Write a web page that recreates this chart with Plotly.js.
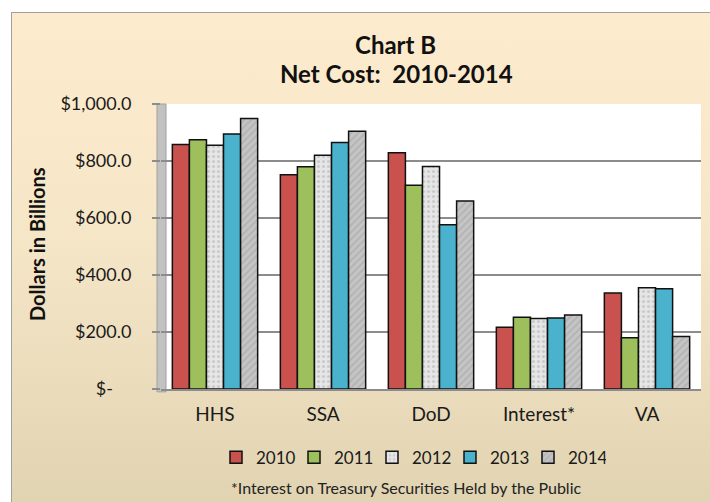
<!DOCTYPE html>
<html><head><meta charset="utf-8">
<script src="https://cdn.plot.ly/plotly-3.0.1.min.js"></script>
<style>
html,body{margin:0;padding:0;background:#fff;}
#wrap{position:relative;width:710px;height:502px;overflow:hidden;}
#bg{position:absolute;left:11px;top:12px;width:720px;height:500px;border:1px solid #a0a0a0;
 background:linear-gradient(to bottom,#fdebcd 0%,#f6e6c8 45%,#e0d3b1 100%);}
#chart{position:absolute;left:0;top:0;width:710px;height:502px;}
</style></head>
<body><div id="wrap"><div id="bg"></div><div id="chart"></div></div>
<script>
const categories = ["HHS", "SSA", "DoD", "Interest*", "VA"];
const years = ["2010", "2011", "2012", "2013", "2014"];
const v2010 = [858, 752, 829, 217, 337];
const v2011 = [875, 780, 715, 252, 180];
const v2012 = [855, 820, 781, 247, 355];
const v2013 = [895, 865, 576, 249, 352];
const v2014 = [949, 904, 660, 260, 184];
const yTickVals = [0, 200, 400, 600, 800, 1000];
const yTickText = ["$-\u00a0\u00a0\u00a0\u00a0", "$200.0", "$400.0", "$600.0", "$800.0", "$1,000.0"];

const series = [v2010, v2011, v2012, v2013, v2014];
const colors = ["#c9524f", "#9dbf5c", "#e6e6e6", "#4bb2cd", "#c4c4c4"];
const patterns = ["", "", ".", "", "/"];
const data = series.map((vals, i) => ({
  type: "bar", x: categories, y: vals, name: years[i],
  marker: {color: colors[i], line: {color: "#111", width: 1.5},
    pattern: patterns[i] ? {shape: patterns[i], bgcolor: colors[i], fgcolor: "#6a6a6a", fgopacity: 0.22, size: 5, solidity: 0.3} : undefined},
  hoverinfo: "skip"
}));

const FONT = "Lato, 'Open Sans', sans-serif";
const layout = {
  width: 710, height: 502,
  paper_bgcolor: "rgba(0,0,0,0)", plot_bgcolor: "#ffffff",
  margin: {l: 161, r: 9, t: 104, b: 113},
  barmode: "group", bargap: 0.21, bargroupgap: 0,
  font: {family: FONT, size: 15, color: "#1a1a1a"},
  showlegend: true,
  legend: {orientation: "h", xref: "container", yref: "container", x: 216/710, xanchor: "left", y: 0.088, yanchor: "middle",
    entrywidth: 33, entrywidthmode: "pixels",
    font: {family: FONT, size: 17, color: "#1a1a1a"}, bgcolor: "rgba(0,0,0,0)", traceorder: "normal"},
  xaxis: {type: "category", showgrid: false, showline: true, linecolor: "#8c8c8c", linewidth: 1.5,
    ticks: "", tickfont: {family: FONT, size: 19, color: "#1a1a1a"}, ticklabelstandoff: 8},
  yaxis: {range: [0, 1000], tickvals: yTickVals, ticktext: yTickText, showgrid: true,
    gridcolor: "#8c8c8c", gridwidth: 1.5, zeroline: false, showline: false,
    ticks: "outside", ticklen: 8, tickcolor: "#8c8c8c", tickwidth: 1.5, ticklabelstandoff: 17,
    tickfont: {family: FONT, size: 18, color: "#1a1a1a"}},
  shapes: [
    {type: "rect", xref: "x domain", yref: "y domain", x0: -0.0074, x1: 0.0093, y0: -0.01, y1: 1.0,
     fillcolor: "#c2c2c2", line: {color: "#a0a0a0", width: 1}, layer: "below"}
  ],
  annotations: [
    {text: "<b>Chart B</b>", xref: "paper", yref: "paper", x: (395-161)/540, y: (389-44)/285,
     showarrow: false, font: {family: FONT, size: 24, color: "#111"}, xanchor: "center", yanchor: "middle"},
    {text: "<b>Net Cost:  2010-2014</b>", xref: "paper", yref: "paper", x: (396-161)/540, y: (389-74)/285,
     showarrow: false, font: {family: FONT, size: 24, color: "#111"}, xanchor: "center", yanchor: "middle"},
    {text: "<b>Dollars in Billions</b>", xref: "paper", yref: "paper", x: (37-161)/540, y: (389-244)/285,
     textangle: -90, showarrow: false, font: {family: FONT, size: 20, color: "#111"}, xanchor: "center", yanchor: "middle"},
    {text: "*Interest on Treasury Securities Held by the Public", xref: "paper", yref: "paper",
     x: (406-161)/540, y: (389-487)/285, showarrow: false,
     font: {family: FONT, size: 16, color: "#222"}, xanchor: "center", yanchor: "middle"}
  ]
};
Plotly.newPlot("chart", data, layout, {staticPlot: true, displayModeBar: false});
</script></body></html>
